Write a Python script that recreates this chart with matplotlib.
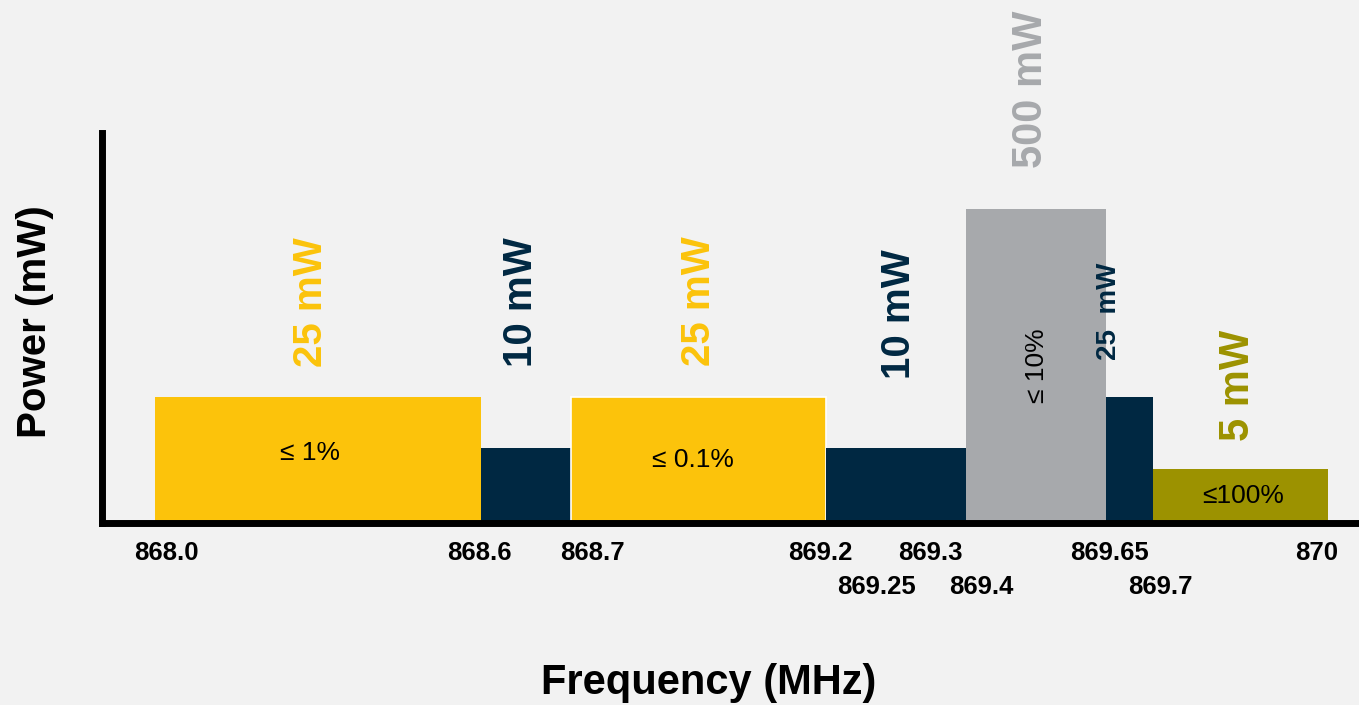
import numpy as np
import matplotlib.pyplot as plt

plt.rcParams['font.family'] = ['Liberation Sans', 'DejaVu Sans']

# SRD 868 MHz sub-bands
band_lo = [868.0, 868.6, 868.7, 869.2, 869.4, 869.65, 869.7]
band_hi = [868.6, 868.7, 869.2, 869.4, 869.65, 869.7, 870.0]
power_mw = [25, 10, 25, 10, 500, 25, 5]
power_txt = ["25 mW", "10 mW", "25 mW", "10 mW", "500 mW", "25  mW", "5 mW"]
duty_txt = ["≤ 1%", "", "≤ 0.1%", "", "≤ 10%", "", "≤100%"]
tick_freqs = [868.0, 868.6, 868.7, 869.2, 869.3, 869.25, 869.4, 869.65, 869.7, 870.0]
tick_txt = ["868.0", "868.6", "868.7", "869.2", "869.3", "869.25", "869.4", "869.65", "869.7", "870"]

YELLOW = "#fcc30b"
NAVY = "#002842"
GREY = "#a7a9ac"
OLIVE = "#9c9200"
colors = [YELLOW, NAVY, YELLOW, NAVY, GREY, NAVY, OLIVE]
edges = ["none", "none", "white", "none", "none", "none", "none"]

# schematic (non-linear) axes: piecewise-linear mapping for readability
fx = np.array([867.9, 868.0, 868.6, 868.7, 869.2, 869.4, 869.65, 869.7, 870.0, 870.06])
gx = np.array([0, 53, 379, 469, 724, 864, 1004, 1051, 1226, 1257], dtype=float)
fy = np.array([0, 5, 10, 25, 500, 700], dtype=float)
gy = np.array([0, 54, 75, 126, 313, 389], dtype=float)


def fwd_x(v):
    return np.interp(v, fx, gx, left=-1e3, right=2e3)


def inv_x(v):
    return np.interp(v, gx, fx)


def fwd_y(v):
    return np.interp(v, fy, gy)


def inv_y(v):
    return np.interp(v, gy, fy)


fig = plt.figure(figsize=(13.59, 7.05), dpi=100)
fig.patch.set_facecolor("#f2f2f2")
ax = fig.add_axes([102 / 1359, (705 - 523) / 705, 1257 / 1359, 390 / 705])
ax.set_facecolor("#f2f2f2")
ax.set_xscale("function", functions=(fwd_x, inv_x))
ax.set_yscale("function", functions=(fwd_y, inv_y))
ax.set_xlim(867.9, 870.06)
ax.set_ylim(0, 700)

widths = [h - l for l, h in zip(band_lo, band_hi)]
ax.bar(band_lo, power_mw, width=widths, align="edge", color=colors,
       edgecolor=edges, linewidth=1.2, zorder=2)

for sp in ["top", "right"]:
    ax.spines[sp].set_visible(False)
ax.spines["left"].set_linewidth(5)
ax.spines["bottom"].set_linewidth(5)
ax.spines["bottom"].set_zorder(4)
ax.set_xticks([])
ax.set_yticks([])

# power labels above the bars (y in axes fraction)
label_y = [0.566, 0.566, 0.568, 0.535, 1.111, 0.542, 0.352]
label_size = [29, 29, 29, 29, 30, 20, 30]
label_dx = [-0.03, -0.02, 0.0, 0.01, -0.02, -0.08, -0.01]
tr = ax.get_xaxis_transform()
for i in range(len(band_lo)):
    xc = inv_x((fwd_x(band_lo[i]) + fwd_x(band_hi[i])) / 2 + label_dx[i] * 250)
    ax.text(xc, label_y[i], power_txt[i], rotation=90, ha="center", va="center",
            fontsize=label_size[i], fontweight="bold", color=colors[i],
            transform=tr, clip_on=False)

# duty-cycle text inside the bars
duty_y = [0.18, 0.0, 0.162, 0.0, 0.404, 0.0, 0.069]
duty_dx = [-8, 0, -6, 0, 1, 0, 3]
for i in range(len(band_lo)):
    if not duty_txt[i]:
        continue
    xc = inv_x((fwd_x(band_lo[i]) + fwd_x(band_hi[i])) / 2 + duty_dx[i])
    rot = 90 if power_mw[i] == 500 else 0
    ax.text(xc, duty_y[i], duty_txt[i], rotation=rot, ha="center", va="center",
            fontsize=19, color="black", transform=tr, zorder=3)

# frequency labels, staggered in two rows
tick_px = [166, 479, 592, 820, 930, 876, 981, 1110, 1160, 1317]
tick_row = [0, 0, 0, 0, 0, 1, 1, 0, 1, 0]
for f, t, px, row in zip(tick_freqs, tick_txt, tick_px, tick_row):
    y = -0.078 - 0.085 * row
    ax.text(inv_x(px - 102), y, t, ha="center", va="center", fontsize=18.5,
            fontweight="bold", transform=tr, clip_on=False)

fig.text(709 / 1359, 1 - 683 / 705, "Frequency (MHz)", ha="center", va="center",
         fontsize=30, fontweight="bold")
fig.text(35 / 1359, 1 - 322 / 705, "Power (mW)", ha="center", va="center",
         rotation=90, fontsize=29, fontweight="bold")

fig.savefig("out.png", dpi=100, facecolor=fig.get_facecolor())
